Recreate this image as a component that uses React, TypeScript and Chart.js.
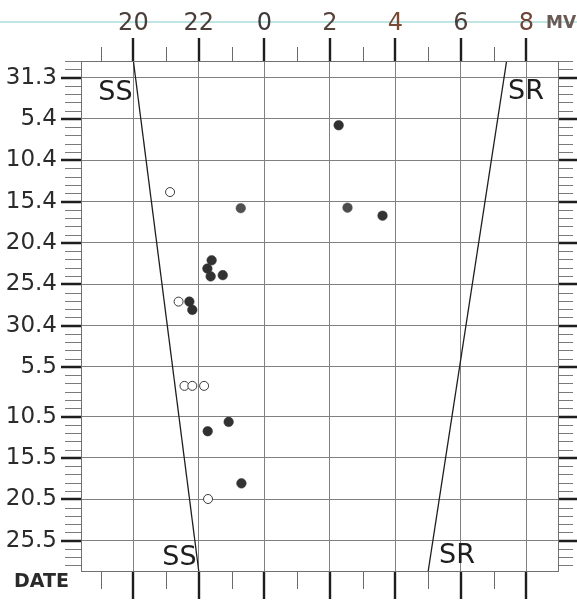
import React, { useEffect, useRef } from "react";
import { Chart, registerables } from "chart.js";

Chart.register(...registerables);

const FONT = '"DejaVu Sans", "Liberation Sans", Arial, sans-serif';

// x axis: clock hours, continued past midnight (24 = 0h, 26 = 2h, ...)
const hourTicks = [20, 22, 24, 26, 28, 30, 32];
const hourMin = 18.4;
const hourMax = 33.0;

// y axis: day rows counted downwards from 31.3
const dateLabels = ["31.3", "5.4", "10.4", "15.4", "20.4", "25.4", "30.4", "5.5", "10.5", "15.5", "20.5", "25.5"];
const dateRows = [0, 5, 10, 15, 20, 25, 30, 35, 41, 46, 51, 56];
const rowMin = -2;
const rowMax = 59.8;

// filled observations
const filledHours = [26.27, 23.28, 26.54, 27.61, 22.39, 22.26, 22.36, 22.73, 21.71, 21.8, 22.91, 22.27, 23.3];
const filledRows = [5.77, 15.8, 15.74, 16.71, 22.1, 23.1, 24.05, 23.9, 27.1, 28.1, 41.65, 42.78, 49.08];

// open observations
const openHours = [21.12, 21.38, 21.56, 21.8, 22.16, 22.28];
const openRows = [13.85, 27.1, 37.29, 37.29, 37.29, 50.97];

// sunset (SS) and sunrise (SR) lines
const ssHours = [20.0, 22.0];
const ssRows = [-2, 59.8];
const srHours = [31.4, 29.0];
const srRows = [-2, 59.8];

const filledShades = ["#303030", "#505050", "#4c4c4c", "#333333", "#323232", "#303030", "#323232", "#333333", "#303030", "#303030", "#333333", "#303030", "#343434"];
const hourLabelColors = ["#4b3e38", "#4b3e38", "#3e3a3a", "#55433c", "#7a4a36", "#4d3f3a", "#6e4536"];

export default function App() {
  const ref = useRef<HTMLCanvasElement>(null);

  useEffect(() => {
    const canvas = ref.current;
    if (!canvas) return;

    const decor = {
      id: "decor",
      beforeDraw(chart: any) {
        const ctx = chart.ctx;
        ctx.save();
        ctx.strokeStyle = "rgba(175,222,222,0.8)";
        ctx.lineWidth = 2;
        ctx.beginPath();
        ctx.moveTo(0, 22);
        ctx.lineTo(577, 22);
        ctx.stroke();
        ctx.restore();
      },
      afterDraw(chart: any) {
        const ctx = chart.ctx;
        const a = chart.chartArea;
        const xs = chart.scales.x;
        const ys = chart.scales.y;
        ctx.save();
        // frame
        ctx.strokeStyle = "#707070";
        ctx.lineWidth = 1;
        ctx.strokeRect(Math.round(a.left) + 0.5, Math.round(a.top) + 0.5, Math.round(a.right - a.left) - 1, Math.round(a.bottom - a.top) - 1);
        // hour ticks (top and bottom)
        for (let h = Math.ceil(hourMin); h < hourMax; h++) {
          const major = h % 2 === 0;
          const px = Math.round(xs.getPixelForValue(h)) + (major ? 0 : 0.5);
          ctx.strokeStyle = major ? "#1e1e1e" : "#6a6a6a";
          ctx.lineWidth = major ? 2.4 : 1;
          ctx.beginPath();
          ctx.moveTo(px, a.top - (major ? 23 : 14));
          ctx.lineTo(px, a.top);
          ctx.moveTo(px, a.bottom);
          ctx.lineTo(px, a.bottom + (major ? 27 : 17));
          ctx.stroke();
        }
        // day ticks (left and right)
        for (let d = rowMin; d < rowMax; d++) {
          const major = dateRows.includes(d);
          const py = Math.round(ys.getPixelForValue(d)) + (major ? 0 : 0.5);
          ctx.strokeStyle = major ? "#1e1e1e" : "#7a7a7a";
          ctx.lineWidth = major ? 2.4 : 1;
          ctx.beginPath();
          ctx.moveTo(a.left - (major ? 20 : 16), py);
          ctx.lineTo(a.left, py);
          ctx.moveTo(a.right, py);
          ctx.lineTo(a.right + (major ? 18 : 14), py);
          ctx.stroke();
        }
        // line labels
        ctx.fillStyle = "#1e1e1e";
        ctx.font = "27px " + FONT;
        ctx.textAlign = "center";
        ctx.textBaseline = "alphabetic";
        ctx.fillText("SS", a.left + 34.5, a.top + 39);
        ctx.fillText("SR", a.right - 33, a.top + 38);
        ctx.fillText("SS", a.left + 98.5, a.bottom - 7);
        ctx.fillText("SR", a.left + 376, a.bottom - 9);
        // axis titles
        ctx.textAlign = "left";
        ctx.fillStyle = "#2a2a2a";
        ctx.font = "bold 19px " + FONT;
        ctx.fillText("DATE", 14, 587);
        ctx.fillStyle = "#6a5a55";
        ctx.font = "bold 17px " + FONT;
        ctx.fillText("MV", 546, 28);
        ctx.restore();
      },
    };

    const chart = new Chart(canvas, {
      type: "scatter",
      data: {
        datasets: [
          {
            data: ssHours.map((h, i) => ({ x: h, y: ssRows[i] })),
            showLine: true,
            borderColor: "#1e1e1e",
            borderWidth: 1.3,
            pointRadius: 0,
          },
          {
            data: srHours.map((h, i) => ({ x: h, y: srRows[i] })),
            showLine: true,
            borderColor: "#1e1e1e",
            borderWidth: 1.3,
            pointRadius: 0,
          },
          {
            data: filledHours.map((h, i) => ({ x: h, y: filledRows[i] })),
            pointRadius: 4.8,
            pointBackgroundColor: filledShades,
            pointBorderColor: filledShades,
            pointBorderWidth: 0.5,
          },
          {
            data: openHours.map((h, i) => ({ x: h, y: openRows[i] })),
            pointRadius: 4.5,
            pointBackgroundColor: "#ffffff",
            pointBorderColor: "#3a3a3a",
            pointBorderWidth: 1,
          },
        ],
      },
      options: {
        responsive: false,
        animation: false,
        layout: { padding: 0 },
        plugins: { legend: { display: false }, tooltip: { enabled: false } },
        scales: {
          x: {
            type: "linear",
            position: "top",
            min: hourMin,
            max: hourMax,
            afterBuildTicks: (s: any) => {
              s.ticks = hourTicks.map((v) => ({ value: v }));
            },
            afterFit: (s: any) => {
              s.height = 61;
              s.paddingLeft = 0;
              s.paddingRight = 0;
            },
            grid: { color: "#808080", lineWidth: 1, drawTicks: false },
            border: { display: false },
            ticks: {
              autoSkip: false,
              maxRotation: 0,
              padding: 23,
              font: { family: FONT, size: 24 },
              color: (c: any) => hourLabelColors[c.index] || "#444",
              callback: (v: any) => String(Number(v) % 24),
            },
          },
          xb: {
            type: "linear",
            axis: "x",
            position: "bottom",
            min: hourMin,
            max: hourMax,
            afterFit: (s: any) => {
              s.height = 28;
              s.paddingLeft = 0;
              s.paddingRight = 0;
            },
            grid: { display: false },
            border: { display: false },
            ticks: { display: false },
          },
          y: {
            type: "linear",
            position: "left",
            reverse: true,
            min: rowMin,
            max: rowMax,
            afterBuildTicks: (s: any) => {
              s.ticks = dateRows.map((v) => ({ value: v }));
            },
            afterFit: (s: any) => {
              s.width = 81;
              s.paddingTop = 0;
              s.paddingBottom = 0;
            },
            grid: { color: "#808080", lineWidth: 1, drawTicks: false },
            border: { display: false },
            ticks: {
              autoSkip: false,
              padding: 24,
              font: { family: FONT, size: 23 },
              color: "#2b2b2b",
              callback: (_v: any, i: number) => dateLabels[i],
            },
          },
          yr: {
            type: "linear",
            axis: "y",
            position: "right",
            reverse: true,
            min: rowMin,
            max: rowMax,
            afterFit: (s: any) => {
              s.width = 18;
              s.paddingTop = 0;
              s.paddingBottom = 0;
            },
            grid: { display: false },
            border: { display: false },
            ticks: { display: false },
          },
        },
      } as any,
      plugins: [decor],
    });

    return () => chart.destroy();
  }, []);

  return (
    <div style={{ position: "fixed", left: 0, top: 0, width: 577, height: 600, background: "#ffffff" }}>
      <canvas ref={ref} width={577} height={600} style={{ display: "block", width: 577, height: 600 }} />
    </div>
  );
}
